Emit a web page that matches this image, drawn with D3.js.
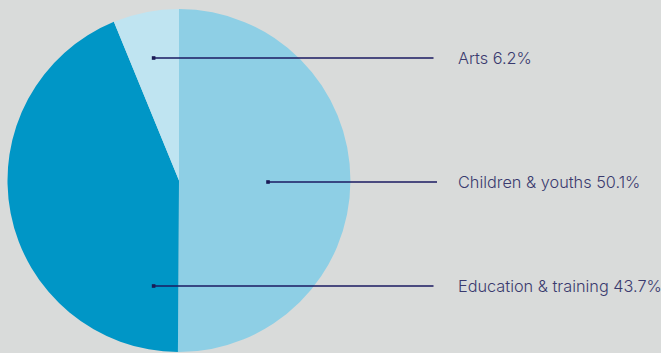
<!DOCTYPE html>
<html>
<head>
<meta charset="utf-8">
<script src="https://cdn.jsdelivr.net/npm/d3@7"></script>
<style>
  html, body { margin: 0; padding: 0; background: #d9dbda; }
  svg { display: block; }
</style>
</head>
<body>
<svg id="chart" width="661" height="353"></svg>
<script>
// Data
const categories = ["Children & youths", "Education & training", "Arts"];
const shares = [50.1, 43.7, 6.2];
const labelTexts = ["Children & youths 50.1%", "Education & training 43.7%", "Arts 6.2%"];

// Layout (not data)
const colors = ["#8ecfe5", "#0096c6", "#bfe4f1"];
// anchor points of leader lines, relative to pie centre, in radius units
const anchors = [[0.519, 0.009], [-0.148, 0.615], [-0.148, -0.714]];
const lineEnds = [437, 433.5, 433.5];
const labelX = 458;

const W = 661, H = 353;
const cx = 179, cy = 180.5, R = 171.5;

const svg = d3.select("#chart");
svg.append("rect").attr("width", W).attr("height", H).attr("fill", "#d9dbda");

const pie = d3.pie().sort(null).value(d => d)(shares);
const arc = d3.arc().innerRadius(0).outerRadius(R);

const g = svg.append("g").attr("transform", `translate(${cx},${cy})`);
g.selectAll("path").data(pie).join("path")
  .attr("d", arc)
  .attr("fill", (d, i) => colors[i]);

const xs = d3.scaleLinear().domain([-1, 1]).range([cx - R, cx + R]);
const ys = d3.scaleLinear().domain([-1, 1]).range([cy - R, cy + R]);

const lab = svg.append("g");
categories.forEach((c, i) => {
  const ax = xs(anchors[i][0]), ay = Math.round(ys(anchors[i][1]));
  lab.append("line")
    .attr("x1", ax).attr("y1", ay).attr("x2", lineEnds[i]).attr("y2", ay)
    .attr("stroke", "#1a1a60").attr("stroke-width", 1.5);
  lab.append("rect")
    .attr("x", ax - 1.8).attr("y", ay - 1.8).attr("width", 3.6).attr("height", 3.6)
    .attr("fill", "#1a1a55");
  lab.append("text")
    .attr("x", labelX).attr("y", ay)
    .attr("dy", "0.36em")
    .attr("font-family", "Inter, 'Open Sans', sans-serif")
    .attr("font-size", 16.3)
    .attr("font-weight", 300)
    .attr("fill", "#3a3a6e")
    .text(labelTexts[i]);
});
</script>
</body>
</html>
